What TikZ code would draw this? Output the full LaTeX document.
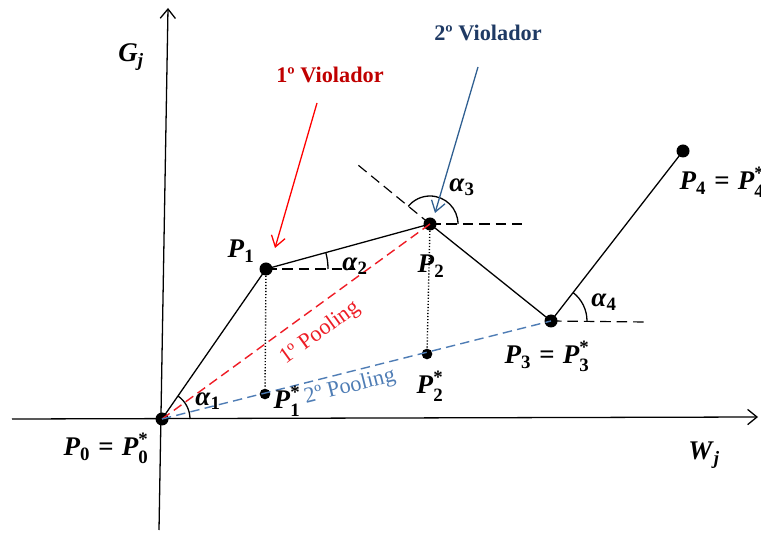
\documentclass[tikz,border=0pt]{standalone}
\usepackage{amsmath}
\usepackage{fontspec}
\setmainfont{Liberation Serif}
\usetikzlibrary{arrows.meta}
\definecolor{violred}{HTML}{C00000}
\definecolor{poolred}{HTML}{EE1C25}
\definecolor{poolblue}{HTML}{4F7DB5}
\definecolor{violblue}{HTML}{1F3A64}
\definecolor{arrblue}{HTML}{2F5F91}
\newcommand{\ptlab}[1]{\textbf{\textit{P}}_{\textbf{#1}}}
\newcommand{\ptstar}[1]{\textbf{\textit{P}}^{\textbf{*}}_{\textbf{#1}}}
\newcommand{\anglab}[1]{\textbf{\textit{α}}_{\textbf{#1}}}
\begin{document}
\begin{tikzpicture}[x=0.03cm, y=0.03cm, font=\fontsize{19}{22}\selectfont,
  dot/.style={circle, fill=black, inner sep=0pt, minimum size=0.39cm},
  sdot/.style={circle, fill=black, inner sep=0pt, minimum size=0.32cm},
  lab/.style={font=\fontsize{23}{27}\selectfont},
  seg/.style={line width=1.1pt},
  guide/.style={line width=1pt, dash pattern=on 9pt off 5pt},
  pool/.style={line width=1.2pt, dash pattern=on 8pt off 4.5pt},
  axis/.style={line width=1.1pt, -{Straight Barb[length=8pt,width=13pt]}},
  viol/.style={line width=1.1pt, -{Straight Barb[length=9pt,width=12pt]}}]
  \useasboundingbox (0,0) rectangle (761,533);
  % points
  \foreach \n/\x/\y in {p0/162/114, p1/266/264, p2/430/309, p3/551/212, p4/683/382}
    \node[dot] (\n) at (\x,\y) {};
  \node[sdot] (s1) at (265,139) {};
  \node[sdot] (s2) at (427,179) {};
  % axes
  \coordinate (xl) at (12,114);
  \coordinate (xr) at (758,116);
  \coordinate (yb) at (159,3);
  \coordinate (yt) at (168,525);
  \draw[axis] (xl) -- (xr);
  \draw[axis] (yb) -- (yt);
  \node[lab] (gj) at (131,476) {$\textbf{\textit{G}}_{\textbf{\textit{j}}}$};
  \node[lab] (wj) at (704,78) {$\textbf{\textit{W}}_{\textbf{\textit{j}}}$};
  % helper lines
  \coordinate (h1) at (355,264);
  \coordinate (h2) at (522,309);
  \coordinate (e2) at (358,368);
  \coordinate (h3) at (645,211);
  \draw[guide] (p1.center) -- (h1);
  \draw[guide] (p2.center) -- (h2);
  \draw[guide] (p2.center) -- (e2);
  \draw[guide] (p3.center) -- (h3);
  \draw[line width=1.2pt, dash pattern=on 1pt off 1.6pt] (p1) -- (s1);
  \draw[line width=1.2pt, dash pattern=on 1pt off 1.6pt] (p2) -- (s2);
  % polygon
  \draw[seg] (p0.center) -- (p1.center) -- (p2.center) -- (p3.center) -- (p4.center);
  % pooling
  \draw[pool, poolred] (p0.center) -- (p2.center);
  \draw[pool, poolblue] (p0.center) -- (p3.center);
  \node[text=poolred, rotate=36] (pool1) at (320,200) {1º Pooling};
  \node[text=poolblue, rotate=14] (pool2) at (350,146) {2º Pooling};
  % angles
  \draw[seg] (p0.center) ++(28,0) arc[start angle=0, end angle=55, radius=28];
  \draw[seg] (p1.center) ++(62,0) arc[start angle=0, end angle=15, radius=62];
  \draw[seg] (p2.center) ++(28,0) arc[start angle=0, end angle=141, radius=28];
  \draw[seg] (p3.center) ++(36,0) arc[start angle=0, end angle=52, radius=36];
  \node[lab] (a1) at (208,132) {$\anglab{1}$};
  \node[lab] (a2) at (355,267) {$\anglab{2}$};
  \node[lab] (a3) at (462,346) {$\anglab{3}$};
  \node[lab] (a4) at (604,231) {$\anglab{4}$};
  % violators
  \coordinate (v1) at (317,430);
  \coordinate (t1) at (275,285);
  \coordinate (v2) at (478,466);
  \coordinate (t2) at (435,320);
  \draw[viol, red] (v1) -- (t1);
  \draw[viol, arrblue] (v2) -- (t2);
  \node[text=violred, font=\fontsize{19}{22}\selectfont\bfseries] (viol1) at (330,458) {1º Violador};
  \node[text=violblue, font=\fontsize{19}{22}\selectfont\bfseries] (viol2) at (488,500) {2º Violador};
  % point labels
  \node[lab] (l0) at (106,85) {$\ptlab{0}\mathrel{\textbf{=}}\ptstar{0}$};
  \node[lab] (l1) at (241,282) {$\ptlab{1}$};
  \node[lab] (l2) at (431,267) {$\ptlab{2}$};
  \node[lab] (l3) at (547,177) {$\ptlab{3}\mathrel{\textbf{=}}\ptstar{3}$};
  \node[lab] (l4) at (722,351) {$\ptlab{4}\mathrel{\textbf{=}}\ptstar{4}$};
  \node[lab] (ls1) at (287,132) {$\ptstar{1}$};
  \node[lab] (ls2) at (430,147) {$\ptstar{2}$};
\end{tikzpicture}
\end{document}
